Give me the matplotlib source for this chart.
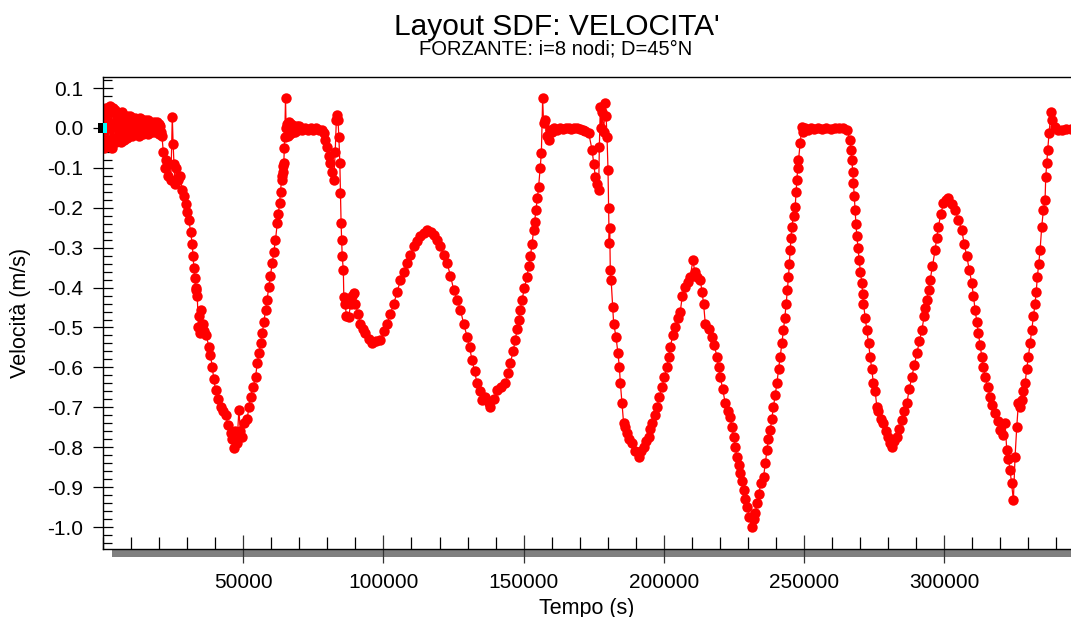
import numpy as np
import matplotlib.pyplot as plt
from matplotlib.patches import Rectangle
from matplotlib.ticker import MultipleLocator, FormatStrFormatter

plt.rcParams['font.family'] = ['Liberation Sans', 'DejaVu Sans']

# =========================
# Dati: tempo (s), velocità (m/s)
# =========================

# tratto iniziale rumoroso (un punto ogni 300 s)
tempo_a = list(range(0, 21001, 300))
vel_a = [
    0.03, -0.05, 0.04, -0.035, 0.05, -0.045, 0.045, -0.03, 0.055, -0.04,
    0.04, -0.05, 0.05, -0.025, 0.045, -0.035, 0.04, -0.03, 0.035, -0.02,
    0.03, -0.035, 0.04, -0.02, 0.03, -0.03, 0.025, -0.015, 0.03, -0.025,
    0.02, -0.02, 0.03, -0.01, 0.025, -0.02, 0.02, -0.015, 0.025, -0.01,
    0.02, -0.015, 0.015, -0.02, 0.025, -0.01, 0.02, -0.015, 0.015, -0.005,
    0.02, -0.01, 0.015, -0.015, 0.02, -0.005, 0.015, -0.01, 0.01, -0.005,
    0.015, -0.01, 0.01, -0.005, 0.015, -0.01, 0.01, -0.015, 0.005, -0.01, -0.02,
]

seg_b = [
    (21500, -0.06), (22000, -0.10), (22500, -0.08), (23000, -0.12), (23500, -0.09),
    (24200, -0.13), (24700, 0.028), (25000, -0.04), (25300, -0.09), (25700, -0.14),
    (26200, -0.10), (26800, -0.13), (27500, -0.12), (28260, -0.155), (28800, -0.17),
    (29440, -0.19), (30000, -0.21), (30620, -0.23), (31200, -0.26), (31800, -0.29),
    (32100, -0.32), (32400, -0.35), (32700, -0.375), (33000, -0.40), (33300, -0.405),
    (33600, -0.42), (34000, -0.50), (34300, -0.47), (34700, -0.515), (35100, -0.455),
    (35500, -0.49), (36000, -0.51), (36800, -0.52), (37750, -0.548), (38300, -0.57),
    (38950, -0.598), (39500, -0.63), (40130, -0.657), (41000, -0.68), (41900, -0.70),
    (42800, -0.71), (43700, -0.72), (44600, -0.745), (45500, -0.765), (46100, -0.78),
    (46650, -0.803), (47200, -0.76), (47800, -0.79), (48440, -0.707), (49000, -0.76),
    (49640, -0.774), (50300, -0.74), (51400, -0.73), (52000, -0.70), (52600, -0.673),
    (53500, -0.65), (54400, -0.623), (55000, -0.59), (55570, -0.565), (56200, -0.54),
    (56780, -0.514), (57400, -0.485), (57950, -0.456), (58500, -0.43), (59130, -0.398),
    (59700, -0.37), (60340, -0.339), (60900, -0.31), (61500, -0.281), (62120, -0.239),
    (62500, -0.215), (62940, -0.189), (63300, -0.16), (63650, -0.13), (63900, -0.12),
    (64100, -0.11), (64300, -0.095), (64470, -0.088), (64650, -0.05), (64800, -0.022),
    (65080, 0.074), (65300, 0.0),
]

seg_c = [
    (65600, 0.01), (66000, -0.02), (66400, 0.015), (66800, -0.015), (67200, 0.01),
    (67600, -0.01), (68000, 0.005), (68500, -0.01), (69000, 0.005), (69500, -0.005),
    (70000, 0.005), (71000, -0.005), (72000, 0.0), (73000, -0.005), (74000, 0.0),
    (75000, -0.005), (76000, 0.0), (77000, -0.005), (78000, -0.005), (78730, -0.013),
]

seg_d = [
    (79300, -0.03), (79940, -0.047), (80500, -0.07), (81120, -0.089), (81700, -0.11),
    (82300, -0.13), (82800, -0.06), (83200, 0.02), (83500, 0.033), (83800, 0.02),
    (84100, -0.022), (84450, -0.088), (84680, -0.164), (84900, -0.239), (85100, -0.28),
    (85300, -0.322), (85700, -0.356), (85870, -0.423), (86300, -0.44), (86800, -0.47),
    (87650, -0.473), (88300, -0.44), (88900, -0.42), (89430, -0.414), (90000, -0.44),
    (90900, -0.465), (91800, -0.49), (92700, -0.505), (93600, -0.515), (94800, -0.53),
    (95970, -0.54), (97500, -0.535), (98940, -0.531), (100100, -0.51), (101320, -0.49),
    (102500, -0.465), (103700, -0.44), (104900, -0.41), (106070, -0.381), (107300, -0.36),
    (108450, -0.339), (109600, -0.318), (110800, -0.297), (112000, -0.283), (113200, -0.272),
    (114400, -0.262), (115580, -0.256), (116800, -0.26), (117950, -0.268), (119100, -0.28),
    (120300, -0.297), (121500, -0.318), (122700, -0.339), (123900, -0.37), (125070, -0.406),
    (126300, -0.43), (127450, -0.456), (128600, -0.49), (129830, -0.523), (130700, -0.55),
    (131600, -0.581), (132500, -0.61), (133400, -0.64), (134300, -0.66), (135180, -0.682),
    (136360, -0.673), (137550, -0.69), (138150, -0.698), (139300, -0.68), (140530, -0.657),
    (142000, -0.65), (143500, -0.64), (144400, -0.615), (145270, -0.59), (146200, -0.56),
    (147050, -0.531), (147600, -0.505), (148230, -0.481), (148800, -0.455), (149420, -0.431),
    (150300, -0.40), (151200, -0.373), (151800, -0.345), (152400, -0.322), (153000, -0.29),
    (153570, -0.256), (153900, -0.235), (154400, -0.206), (154900, -0.175), (155350, -0.147),
    (155900, -0.10), (156320, -0.063), (156780, 0.074), (157100, 0.012), (157600, 0.02),
    (158200, -0.02), (158900, -0.03), (159500, -0.005),
]

seg_e = [
    (160000, -0.01), (161000, 0.0), (162000, -0.005), (163000, 0.0), (164000, -0.003),
    (165000, 0.0), (166000, 0.0), (167000, -0.002), (168000, 0.0), (169000, 0.0),
    (170000, -0.002), (171000, -0.005), (172000, -0.008), (173200, -0.013),
]

seg_f = [
    (174400, -0.055), (175000, -0.09), (175560, -0.122), (176200, -0.14), (176750, -0.155),
    (177000, -0.047), (177340, 0.053), (177700, 0.0), (178000, 0.04), (178500, -0.01),
    (179130, 0.062), (179400, 0.03), (179730, -0.022), (180090, -0.105), (180300, -0.201),
    (180500, -0.289), (180700, -0.25), (180900, -0.356), (181200, -0.381), (181730, -0.448),
    (182100, -0.49), (182930, -0.523), (183640, -0.565), (184120, -0.598), (184500, -0.64),
    (185060, -0.69), (185650, -0.74), (186250, -0.75), (186850, -0.765), (187700, -0.78),
    (188650, -0.79), (189800, -0.81), (191000, -0.824), (191900, -0.81), (192800, -0.799),
    (193700, -0.785), (194600, -0.774), (195200, -0.755), (195780, -0.74), (196700, -0.72),
    (197550, -0.698), (198400, -0.675), (199340, -0.648), (200200, -0.625), (201120, -0.598),
    (201700, -0.575), (202300, -0.548), (203200, -0.52), (204080, -0.498), (205000, -0.475),
    (205860, -0.46), (206600, -0.42), (207640, -0.398), (208500, -0.385), (209420, -0.373),
    (210380, -0.331), (211000, -0.36), (211800, -0.373), (213000, -0.381), (213600, -0.41),
    (214170, -0.44), (214770, -0.49), (216000, -0.505), (217150, -0.523), (218000, -0.545),
    (218930, -0.573), (219500, -0.60), (220100, -0.623), (221000, -0.655), (221900, -0.69),
    (222800, -0.71), (223680, -0.724), (224300, -0.75), (224860, -0.774), (225500, -0.80),
    (226060, -0.824), (226700, -0.845), (227240, -0.865), (227800, -0.885), (228420, -0.907),
    (229000, -0.93), (229630, -0.949), (230500, -0.975), (231400, -0.999), (232000, -0.98),
    (232600, -0.966), (233200, -0.94), (233770, -0.916), (234700, -0.89), (235550, -0.874),
    (236200, -0.84), (236760, -0.807), (237300, -0.78), (237930, -0.757), (238500, -0.73),
    (239100, -0.698), (239700, -0.67), (240320, -0.64), (240900, -0.605), (241500, -0.573),
    (242100, -0.54), (242670, -0.506), (243150, -0.475), (243630, -0.44), (244050, -0.405),
    (244450, -0.373), (244750, -0.34), (245060, -0.306), (245350, -0.275), (245650, -0.247),
    (246250, -0.22), (246840, -0.197), (247150, -0.16), (247440, -0.13), (247750, -0.10),
    (248020, -0.08), (248620, -0.038), (249230, 0.003), (249800, -0.01), (250500, 0.0),
]

seg_g = [
    (251500, -0.005), (252500, 0.0), (253500, -0.003), (255000, 0.0), (256500, -0.003),
    (258000, 0.0), (259500, -0.002), (261000, 0.0), (262500, 0.0), (264000, 0.0),
    (265260, -0.005),
]

seg_h = [
    (266440, -0.03), (266750, -0.055), (267050, -0.08), (267350, -0.11), (267630, -0.139),
    (267900, -0.17), (268220, -0.206), (268500, -0.24), (268830, -0.272), (269250, -0.30),
    (269650, -0.331), (270100, -0.36), (270610, -0.389), (270900, -0.415), (271180, -0.44),
    (271800, -0.475), (272390, -0.506), (273000, -0.54), (273570, -0.573), (274150, -0.605),
    (274750, -0.64), (275360, -0.66), (275950, -0.698), (276540, -0.71), (277400, -0.73),
    (278320, -0.74), (279200, -0.76), (280100, -0.774), (280700, -0.79), (281300, -0.799),
    (282200, -0.785), (283090, -0.774), (284000, -0.755), (284870, -0.732), (285800, -0.71),
    (286650, -0.69), (287500, -0.655), (288440, -0.623), (289300, -0.595), (290220, -0.565),
    (291100, -0.535), (292000, -0.506), (292900, -0.47), (293300, -0.45), (293780, -0.431),
    (294400, -0.405), (294960, -0.381), (295800, -0.345), (296740, -0.306), (297300, -0.275),
    (297920, -0.247), (298800, -0.215), (299700, -0.189), (300600, -0.18), (301480, -0.176),
    (302700, -0.19), (303870, -0.206), (305000, -0.23), (306240, -0.256), (307100, -0.29),
    (308030, -0.322), (308900, -0.355), (309810, -0.389), (310400, -0.42), (311000, -0.456),
    (311600, -0.485), (312170, -0.515), (312800, -0.545), (313380, -0.573), (313950, -0.60),
    (314560, -0.623), (315500, -0.65), (316340, -0.673), (317200, -0.695), (318120, -0.715),
    (319000, -0.735), (319900, -0.757), (320800, -0.77), (321690, -0.74), (322300, -0.807),
    (322900, -0.83), (323470, -0.857), (324000, -0.89), (324650, -0.932), (325250, -0.824),
    (325860, -0.749), (326430, -0.69), (327000, -0.70), (327630, -0.682), (328200, -0.66),
    (328820, -0.64), (329400, -0.605), (330000, -0.573), (330600, -0.54), (331200, -0.506),
    (331800, -0.47), (332380, -0.44), (332800, -0.41), (333200, -0.373), (333700, -0.34),
    (334170, -0.306), (334770, -0.247), (335350, -0.206), (335950, -0.18), (336200, -0.122),
    (336550, -0.088), (336900, -0.055), (337380, -0.013), (338090, 0.041), (338600, 0.02),
    (339510, 0.003), (340500, -0.005), (341900, -0.005), (343500, -0.003), (345200, -0.003),
]

x_ticks = [50000, 100000, 150000, 200000, 250000, 300000]

resto = seg_b + seg_c + seg_d + seg_e + seg_f + seg_g + seg_h
tempo = tempo_a + [p[0] for p in resto]
velocita = vel_a + [p[1] for p in resto]

# =========================
# Grafico
# =========================
fig = plt.figure(figsize=(10.71, 6.17), dpi=100)
ax = fig.add_axes([0.0962, 0.1102, 0.9038, 0.765])

ax.plot(tempo, velocita, color='red', lw=0.9, marker='o', ms=7.5, mew=0)

ax.set_xlim(0, 345200)
ax.set_ylim(-1.055, 0.1276)

ax.set_xticks(x_ticks)
ax.xaxis.set_minor_locator(MultipleLocator(10000))
ax.yaxis.set_major_locator(MultipleLocator(0.1))
ax.yaxis.set_minor_locator(MultipleLocator(0.02))
ax.yaxis.set_major_formatter(FormatStrFormatter('%.1f'))

ax.tick_params(axis='x', which='major', direction='inout', length=20, width=0.9,
               labelsize=15, pad=7, color='#333333')
ax.tick_params(axis='x', which='minor', direction='in', length=8.5, width=0.9)
ax.tick_params(axis='y', which='major', direction='inout', length=14, width=0.9,
               labelsize=15, pad=7.5)
ax.tick_params(axis='y', which='minor', direction='in', length=6.5, width=0.9)

ax.spines['right'].set_visible(False)
for s in ['left', 'top', 'bottom']:
    ax.spines[s].set_linewidth(1.0)

# ombra sotto l'asse x
ax.add_patch(Rectangle((0.0093, -0.017), 1.0, 0.017, transform=ax.transAxes,
                       facecolor='#808080', edgecolor='none', clip_on=False, zorder=0.5))

# indicatore all'origine
ax.add_patch(Rectangle((0, -0.0125), 1400, 0.025, facecolor='cyan', edgecolor='none',
                       clip_on=False, zorder=5))
ax.add_patch(Rectangle((-1800, -0.0125), 1700, 0.025, facecolor='black', edgecolor='none',
                       clip_on=False, zorder=5))

ax.set_xlabel("Tempo (s)", fontsize=15.5)
ax.set_ylabel("Velocità (m/s)", fontsize=15.5)
ax.xaxis.set_label_coords(0.5, -0.104)
ax.yaxis.set_label_coords(-0.074, 0.5)

fig.text(0.520, 0.9433, "Layout SDF: VELOCITA'", ha='center', va='baseline', fontsize=21.5)
fig.text(0.519, 0.9109, "FORZANTE: i=8 nodi; D=45°N", ha='center', va='baseline', fontsize=14.5)

plt.savefig("out.png", dpi=100)
